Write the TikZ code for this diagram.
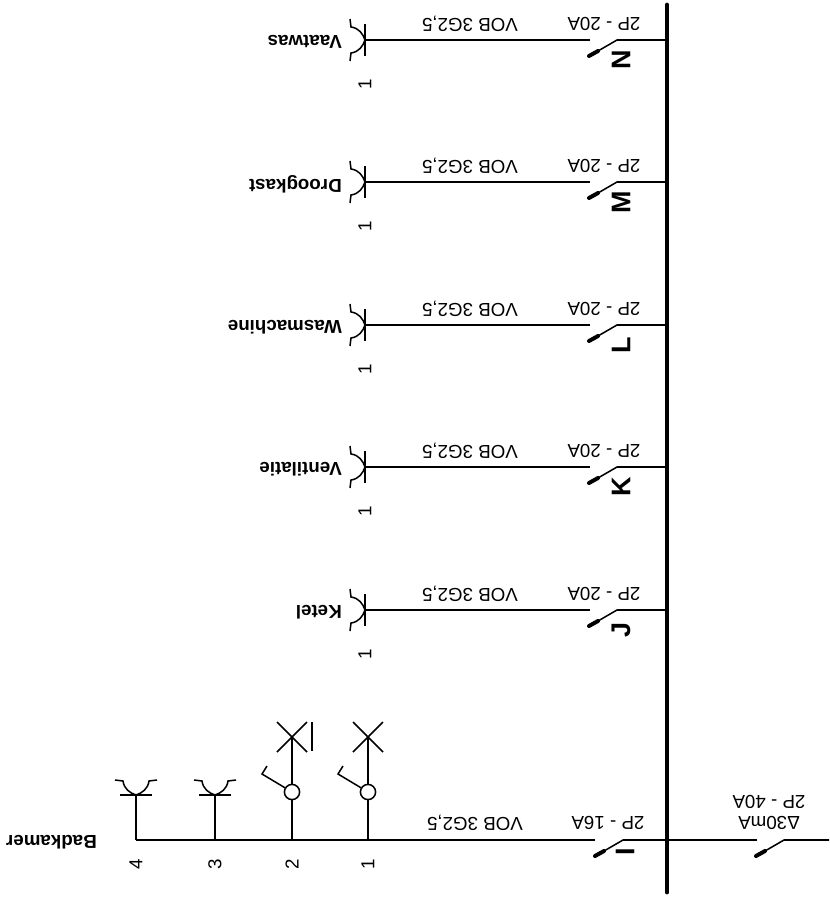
\documentclass[tikz,border=0pt]{standalone}
\usepackage{fontspec}
\setmainfont{Liberation Sans}
\usepackage{tikz}

\tikzset{
  wire/.style={black, line width=1.3pt},
  blade/.style={black, line width=3.4pt, line cap=round},
  busbar/.style={black, line width=4.2pt, line cap=round},
  rating/.style={rotate=180, inner sep=0pt, font=\fontsize{16}{16}\selectfont},
  roomname/.style={rotate=180, inner sep=0pt, anchor=west, font=\fontsize{16}{16}\selectfont\bfseries},
  circuit/.style={rotate=90, inner sep=0pt, font=\fontsize{23}{23}\selectfont\bfseries},
  pointnr/.style={rotate=90, inner sep=0pt, font=\fontsize{16}{16}\selectfont},
  ring/.style={circle, draw=black, line width=1.3pt, minimum size=13pt, inner sep=0pt}
}

\newcommand{\socketshape}{
  \draw[wire] (0,-16) -- (0,16);
  \draw[wire] (-15,-21) -- (-14,-13) .. controls (-6,-12) and (-2,-6) .. (0,0);
  \draw[wire] (-15,21) -- (-14,13) .. controls (-6,12) and (-2,6) .. (0,0);
}
\newcommand{\lampcross}{
  \draw[wire] (-15,-15) -- (15,15);
  \draw[wire] (15,-15) -- (-15,15);
}

\begin{document}
\begin{tikzpicture}[x=.03cm,y=-.03cm]
\useasboundingbox (0,0) rectangle (829,906);

% BUS
  \coordinate (bustop) at (667,5);
  \coordinate (busend) at (667,892);
  \draw[busbar] (bustop) -- (busend);

% Circuits J to N
  \foreach \rowy/\letter/\room in {40/N/Vaatwas, 182/M/Droogkast, 325/L/Wasmachine, 467/K/Ventilatie, 610/J/Ketel}
  {
    \coordinate (bus\letter) at (667,\rowy);
    \coordinate (hinge\letter) at (617,\rowy);
    \coordinate (contact\letter) at (598,\rowy+11);
    \coordinate (tip\letter) at (589,\rowy+16);
    \coordinate (out\letter) at (590,\rowy);
    \coordinate (socket\letter) at (365,\rowy);
    \draw[wire] (bus\letter) -- (hinge\letter) -- (contact\letter);
    \draw[blade] (contact\letter) -- (tip\letter);
    \draw[wire] (out\letter) -- (socket\letter);
    \begin{scope}[shift={(365,\rowy)}]
      \socketshape
    \end{scope}
    \node[rating] (breaker\letter) at (604,\rowy-16) {2P - 20A};
    \node[rating] (cable\letter) at (470,\rowy-16) {VOB 3G2,5};
    \node[circuit] (name\letter) at (621,\rowy+20) {\letter};
    \node[roomname] (room\letter) at (342,\rowy+2) {\room};
    \node[pointnr] (point\letter) at (365,\rowy+44) {1};
  }

% Main switch
  \coordinate (feed) at (829,840);
  \coordinate (hingeMain) at (784,840);
  \coordinate (contactMain) at (765,851);
  \coordinate (tipMain) at (756,856);
  \coordinate (outMain) at (757,840);
  \coordinate (busMain) at (667,840);
  \draw[wire] (feed) -- (hingeMain) -- (contactMain);
  \draw[blade] (contactMain) -- (tipMain);
  \draw[wire] (outMain) -- (busMain);
  \node[rating] (breakerMain) at (769,802) {2P - 40A};
  \node[rating] (deltaMain) at (769,823) {Δ30mA};

% Circuit I
  \coordinate (hingeI) at (623,840);
  \coordinate (contactI) at (604,851);
  \coordinate (tipI) at (595,856);
  \coordinate (outI) at (595,840);
  \coordinate (endI) at (136,840);
  \draw[wire] (busMain) -- (hingeI) -- (contactI);
  \draw[blade] (contactI) -- (tipI);
  \draw[wire] (outI) -- (endI);
  \node[rating] (breakerI) at (608,823) {2P - 16A};
  \node[rating] (cableI) at (475,823) {VOB 3G2,5};
  \node[circuit] (nameI) at (625,852) {I};
  \node[roomname] (roomI) at (97,842) {Badkamer};

% Lamps 1 and 2
  \foreach \lampx/\nr in {368/1, 292/2}
  {
    \coordinate (drop\nr) at (\lampx,840);
    \coordinate (cross\nr) at (\lampx,737);
    \node[ring] (lamp\nr) at (\lampx,792) {};
    \coordinate (lever\nr) at (\lampx-30,774);
    \coordinate (knob\nr) at (\lampx-25,766);
    \draw[wire] (drop\nr) -- (lamp\nr);
    \draw[wire] (lamp\nr) -- (cross\nr);
    \draw[wire] (lamp\nr) -- (lever\nr) -- (knob\nr);
    \begin{scope}[shift={(\lampx,737)}]
      \lampcross
    \end{scope}
    \node[pointnr] (point\nr) at (\lampx,864) {\nr};
  }
  \coordinate (markA) at (312,722);
  \coordinate (markB) at (312,751);
  \draw[wire] (markA) -- (markB);

% Sockets 3 and 4
  \foreach \sockx/\nr in {215/3, 136/4}
  {
    \coordinate (drop\nr) at (\sockx,840);
    \coordinate (cup\nr) at (\sockx,795);
    \draw[wire] (drop\nr) -- (cup\nr);
    \begin{scope}[shift={(\sockx,795)},rotate=-90]
      \socketshape
    \end{scope}
    \node[pointnr] (point\nr) at (\sockx,864) {\nr};
  }

\end{tikzpicture}
\end{document}
